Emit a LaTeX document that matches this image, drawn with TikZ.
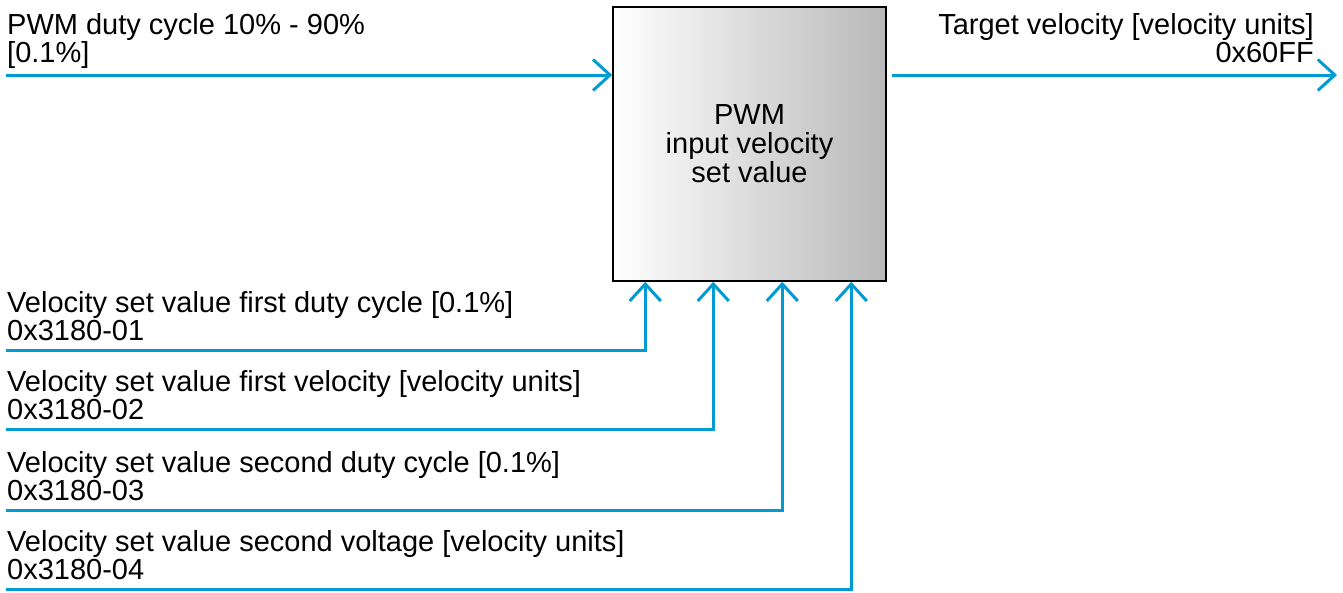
\documentclass[tikz,border=0pt]{standalone}
\usepackage{fontspec}
\setmainfont{Liberation Sans}
\usetikzlibrary{arrows.meta, positioning}
\definecolor{sigblue}{RGB}{0,155,210}
\tikzset{
  x=1pt, y=-1pt,
  every node/.style={font=\fontsize{29}{28}\selectfont},
  signal/.style={draw=sigblue, line width=3pt,
    -{Straight Barb[length=17pt,width=31pt]}},
  block/.style={draw=black, line width=1.5pt, left color=white,
    right color=gray!55, minimum width=273pt, minimum height=274pt,
    align=center, inner sep=0pt, font=\fontsize{29}{29}\selectfont},
  lbl/.style={align=left, inner sep=0pt, anchor=base west},
}

\begin{document}
\begin{tikzpicture}
  \useasboundingbox (0,0) rectangle (1343,592);
  \node[block] (pwm) at (749.5,144) {PWM\\input velocity\\set value};

  \coordinate (in) at (6,75);
  \coordinate (out) at (1337,75);
  \coordinate (s1) at (6,350);
  \coordinate (s2) at (6,429);
  \coordinate (s3) at (6,510);
  \coordinate (s4) at (6,589);
  \coordinate (p1) at ([xshift=33pt]pwm.south west);
  \coordinate (p2) at ([xshift=101pt]pwm.south west);
  \coordinate (p3) at ([xshift=170pt]pwm.south west);
  \coordinate (p4) at ([xshift=239pt]pwm.south west);

  \draw[signal] (in) -- (in -| pwm.west);
  \draw[signal] ([xshift=5pt]pwm.east |- out) -- (out);
  \draw[signal] (s1) -| (p1);
  \draw[signal] (s2) -| (p2);
  \draw[signal] (s3) -| (p3);
  \draw[signal] (s4) -| (p4);

  \node[lbl] (duty) at (7,62) {PWM duty cycle 10\% - 90\%\\{}[0.1\%]};
  \node[lbl, align=right, anchor=base east] (target) at (1314,62)
    {Target velocity [velocity units]\\0x60FF};
  \node[lbl] (first1) at (7,340) {Velocity set value first duty cycle [0.1\%]\\0x3180-01};
  \node[lbl] (first2) at (7,419) {Velocity set value first velocity [velocity units]\\0x3180-02};
  \node[lbl] (second1) at (7,500) {Velocity set value second duty cycle [0.1\%]\\0x3180-03};
  \node[lbl] (second2) at (7,579) {Velocity set value second voltage [velocity units]\\0x3180-04};
\end{tikzpicture}
\end{document}
